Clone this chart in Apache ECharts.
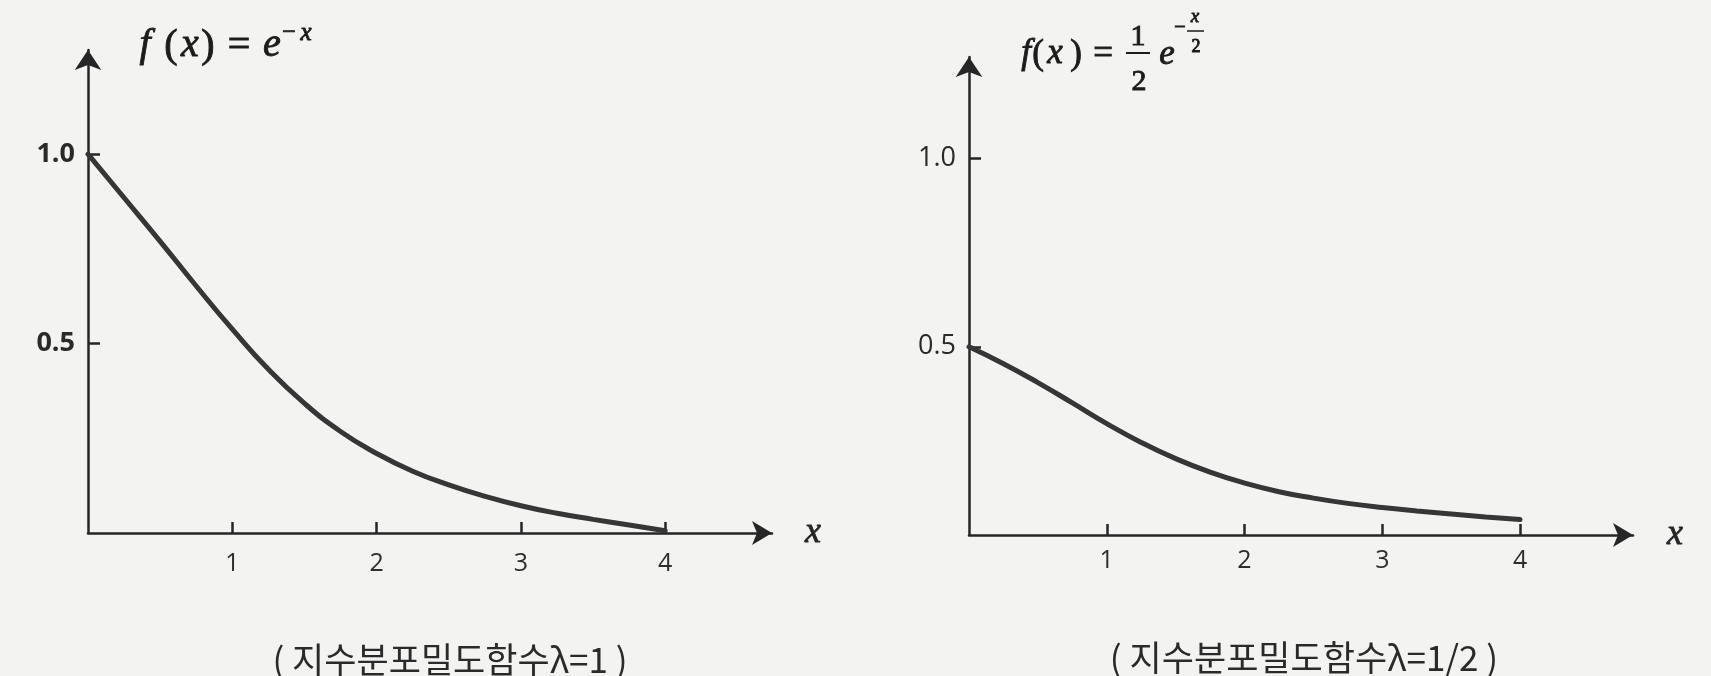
<!DOCTYPE html>
<html><head><meta charset="utf-8">
<script src="https://cdn.jsdelivr.net/npm/echarts@6/dist/echarts.min.js"></script>
<style>html,body{margin:0;padding:0;background:#f3f3f1}#c{width:1711px;height:676px}</style>
</head><body><div id="c"></div>
<script>
// ---- data ----
const xValues = [0,0.25,0.5,0.75,1,1.25,1.5,1.75,2,2.25,2.5,2.75,3,3.25,3.5,3.75,4];
const densityLambda1 = [1.0,0.885,0.77,0.652,0.538,0.432,0.342,0.268,0.21,0.163,0.127,0.097,0.072,0.052,0.036,0.021,0.006];
const densityLambdaHalf = [0.5,0.455,0.405,0.351,0.296,0.246,0.203,0.167,0.138,0.115,0.098,0.084,0.073,0.064,0.056,0.048,0.041];
const xTickValues = [1,2,3,4];
const yTickValues = [0.5,1.0];
const xAxisName = 'x';
const captions = ['( 지수분포밀도함수λ=1 )', '( 지수분포밀도함수λ=1/2 )'];

const INK = '#262626';
const SERIF = '"Liberation Serif","DejaVu Serif",serif';
const SANS = '"Open Sans","Noto Sans",sans-serif';

function xAxisCfg(gi, max, nameGap, margin, weight) {
  return {
    type: 'value', gridIndex: gi, min: 0, max: max,
    name: xAxisName, nameLocation: 'end', nameGap: nameGap,
    nameTextStyle: {fontFamily: SERIF, fontStyle: 'italic', fontSize: 36, color: INK,
      padding: [10, 0, 0, 0], textBorderColor: INK, textBorderWidth: 0.8},
    axisLine: {show: true, onZero: false, symbol: ['none','arrow'], symbolSize: [18,20],
      lineStyle: {color: INK, width: 2.5}},
    axisTick: {show: true, inside: true, length: 11, customValues: xTickValues,
      lineStyle: {color: INK, width: 2.5}},
    axisLabel: {customValues: xTickValues, margin: margin, fontSize: 25, color: '#2e2e2e',
      fontFamily: SANS, fontWeight: weight},
    splitLine: {show: false}
  };
}
function yAxisCfg(gi, max, weight) {
  return {
    type: 'value', gridIndex: gi, min: 0, max: max,
    axisLine: {show: true, onZero: false, symbol: ['none','arrow'], symbolSize: [20,20],
      lineStyle: {color: INK, width: 2.5}},
    axisTick: {show: true, inside: true, length: 12, customValues: yTickValues,
      lineStyle: {color: INK, width: 2.5}},
    axisLabel: {customValues: yTickValues, margin: 13, fontSize: 27, color: '#2a2a2a',
      fontFamily: SANS, fontWeight: weight, formatter: v => v.toFixed(1)},
    splitLine: {show: false}
  };
}
function glyph(text, cx, cy, size, italic) {
  return {type: 'text', x: cx, y: cy, silent: true,
    style: {text: text, fill: '#1c1c1c', stroke: '#1c1c1c', lineWidth: 0.9,
      font: (italic ? 'italic ' : '') + size + 'px ' + SERIF,
      textAlign: 'center', textVerticalAlign: 'middle'}};
}
function bar(x1, x2, y, w) {
  return {type: 'line', silent: true, shape: {x1: x1, y1: y, x2: x2, y2: y},
    style: {stroke: '#1c1c1c', lineWidth: w}};
}
function caption(text, cx, cy) {
  return {type: 'text', x: cx, y: cy, silent: true,
    style: {text: text, fill: '#2a2a2a', font: '35px "Noto Sans CJK KR",sans-serif',
      textAlign: 'center', textVerticalAlign: 'middle'}};
}

const graphics = [
  // f(x) = e^{-x}
  glyph('f', 145, 45, 40, true), glyph('(', 171, 46, 40, false), glyph('x', 190, 45, 40, true),
  glyph(')', 208, 46, 40, false), glyph('=', 239, 46, 40, false), glyph('e', 272, 45, 40, true),
  glyph('\u2212', 289, 33, 24, false), glyph('x', 306, 33, 25, true),
  // f(x) = 1/2 e^{-x/2}
  glyph('f', 1026, 54, 35, true), glyph('(', 1038, 55, 35, false), glyph('x', 1055, 54, 35, true),
  glyph(')', 1076, 55, 35, false), glyph('=', 1103, 55, 35, false),
  glyph('1', 1138, 37, 30, false), bar(1126, 1150, 53, 2), glyph('2', 1139, 82, 30, false),
  glyph('e', 1167, 55, 35, true),
  glyph('\u2212', 1180, 28, 20, false), glyph('x', 1195, 17, 19, true), bar(1187, 1204, 31, 1.5),
  glyph('2', 1196, 47, 18, false),
  caption(captions[0], 450, 660),
  caption(captions[1], 1304, 658)
];

const chart = echarts.init(document.getElementById('c'), null, {renderer: 'canvas'});
chart.setOption({
  backgroundColor: '#f3f3f1',
  animation: false,
  grid: [
    {left: 88, top: 50, width: 684, height: 483},
    {left: 969, top: 57, width: 664, height: 478}
  ],
  xAxis: [xAxisCfg(0, 4.74, 33, 18, 'normal'), xAxisCfg(1, 4.82, 34, 13, 'normal')],
  yAxis: [yAxisCfg(0, 1.275, 'bold'), yAxisCfg(1, 1.27, 'normal')],
  series: [
    {type: 'line', xAxisIndex: 0, yAxisIndex: 0, smooth: true, showSymbol: false,
      data: xValues.map((x, i) => [x, densityLambda1[i]]),
      lineStyle: {color: '#363636', width: 5, cap: 'round'}},
    {type: 'line', xAxisIndex: 1, yAxisIndex: 1, smooth: true, showSymbol: false,
      data: xValues.map((x, i) => [x, densityLambdaHalf[i]]),
      lineStyle: {color: '#363636', width: 5, cap: 'round'}}
  ],
  graphic: graphics
});
</script>
</body></html>
